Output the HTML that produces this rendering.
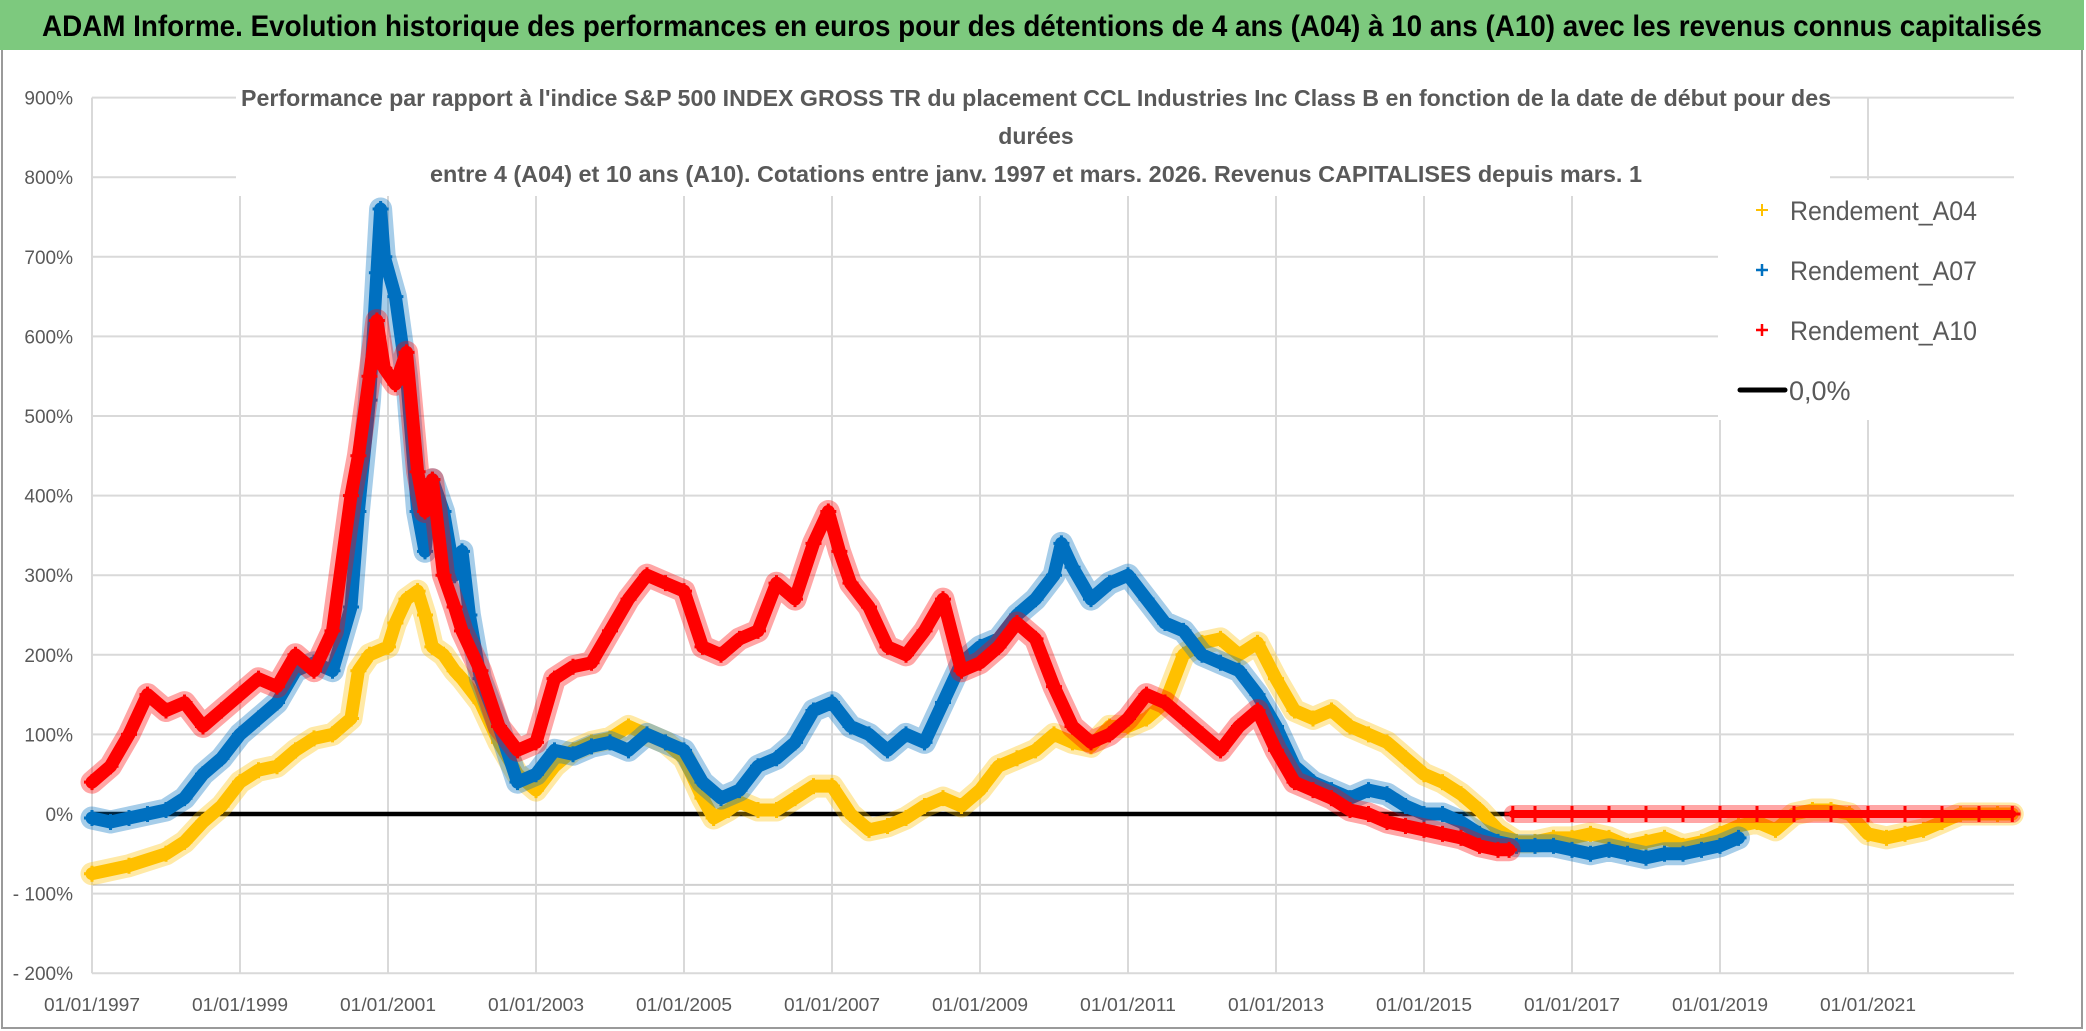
<!DOCTYPE html>
<html><head><meta charset="utf-8"><style>
html,body{margin:0;padding:0;background:#fff;}
svg{display:block;font-family:"Liberation Sans",sans-serif;}
</style></head><body>
<svg id="chart" width="2086" height="1031" viewBox="0 0 2086 1031" xmlns="http://www.w3.org/2000/svg">
<rect x="0" y="0" width="2086" height="1031" fill="#fff"/>
<rect x="2" y="2" width="2080" height="1026" fill="none" stroke="#9a9a9a" stroke-width="2"/>
<rect x="0" y="0" width="2084" height="50" fill="#7dc97e"/>
<text x="1042" y="36" text-anchor="middle" font-size="30" font-weight="bold" fill="#000" textLength="2000" lengthAdjust="spacingAndGlyphs">ADAM Informe. Evolution historique des performances en euros pour des détentions de 4 ans (A04) à 10 ans (A10) avec les revenus connus capitalisés</text>
<g id="grid"></g>
<g id="axes"></g>
<g id="series"></g>
<rect x="236" y="70" width="1594" height="126" fill="#fff"/>
<g fill="#595959" font-weight="bold" font-size="23" text-anchor="middle">
<text x="1036" y="106" textLength="1590" lengthAdjust="spacingAndGlyphs">Performance par rapport à l'indice S&amp;P 500 INDEX GROSS TR  du placement CCL Industries Inc Class B en fonction de la date de début pour des</text>
<text x="1036" y="144">durées</text>
<text x="1036" y="182" textLength="1212" lengthAdjust="spacingAndGlyphs">entre 4 (A04) et 10 ans (A10). Cotations entre janv. 1997 et mars. 2026. Revenus CAPITALISES depuis mars. 1</text>
</g>
<g>
<rect x="1718" y="180" width="300" height="240" fill="#fff"/>
<g><path d="M1756 210h12M1762 204v12" stroke="#ffc000" stroke-width="2"/><text x="1790" y="220" font-size="27" fill="#595959" textLength="187" lengthAdjust="spacingAndGlyphs">Rendement_A04</text></g>
<g><path d="M1756 270h12M1762 264v12" stroke="#0070c0" stroke-width="2.5"/><text x="1790" y="280" font-size="27" fill="#595959" textLength="187" lengthAdjust="spacingAndGlyphs">Rendement_A07</text></g>
<g><path d="M1756 330h12M1762 324v12" stroke="#ff0000" stroke-width="2.5"/><text x="1790" y="340" font-size="27" fill="#595959" textLength="187" lengthAdjust="spacingAndGlyphs">Rendement_A10</text></g>
<g><path d="M1740 390h45" stroke="#000" stroke-width="5" stroke-linecap="round"/><text x="1789" y="400" font-size="27" fill="#595959">0,0%</text></g>
</g>
</svg>
<script>
const yTicks = [900,800,700,600,500,400,300,200,100,0,-100,-200];
const yTickLabels = ["900%","800%","700%","600%","500%","400%","300%","200%","100%","0%","- 100%","- 200%"];
const xTicks = [1997,1999,2001,2003,2005,2007,2009,2011,2013,2015,2017,2019,2021];
const xTickLabels = ["01/01/1997","01/01/1999","01/01/2001","01/01/2003","01/01/2005","01/01/2007","01/01/2009","01/01/2011","01/01/2013","01/01/2015","01/01/2017","01/01/2019","01/01/2021"];
const zeroLineValue = 0;

const a04Dates = [1997,1997.5,1998,1998.25,1998.5,1998.75,1999,1999.25,1999.5,1999.75,2000,2000.25,2000.5,2000.6,2000.75,2001,2001.1,2001.25,2001.4,2001.5,2001.6,2001.75,2001.9,2002,2002.25,2002.5,2002.75,2003,2003.25,2003.5,2003.75,2004,2004.25,2004.5,2004.75,2005,2005.25,2005.4,2005.6,2005.75,2006,2006.25,2006.5,2006.75,2007,2007.25,2007.5,2007.75,2008,2008.25,2008.5,2008.75,2009,2009.25,2009.5,2009.75,2010,2010.25,2010.5,2010.75,2011,2011.25,2011.5,2011.75,2012,2012.25,2012.5,2012.75,2013,2013.25,2013.5,2013.75,2014,2014.25,2014.5,2014.75,2015,2015.25,2015.5,2015.75,2016,2016.25,2016.5,2016.75,2017,2017.25,2017.5,2017.75,2018,2018.25,2018.5,2018.75,2019,2019.25,2019.5,2019.75,2020,2020.25,2020.5,2020.75,2021,2021.25,2021.5,2021.75,2022,2022.25,2022.5,2022.75,2022.95];
const a04Values = [-75,-65,-50,-35,-10,10,40,55,60,80,95,100,120,180,200,210,240,270,280,250,210,200,180,170,140,90,50,30,60,80,90,95,110,100,90,70,20,-5,5,15,5,5,20,35,35,0,-20,-15,-5,10,20,10,30,60,70,80,100,90,85,110,110,120,140,200,215,220,200,215,170,130,120,130,110,100,90,70,50,40,25,5,-20,-35,-35,-30,-30,-25,-30,-40,-35,-30,-40,-35,-25,-15,-10,-20,0,5,5,0,-25,-30,-25,-20,-10,0,0,0,0];

const a07Dates = [1997,1997.25,1997.5,1997.75,1998,1998.25,1998.5,1998.75,1999,1999.25,1999.5,1999.75,2000,2000.25,2000.5,2000.6,2000.75,2000.85,2000.9,2000.95,2001.1,2001.25,2001.4,2001.5,2001.6,2001.75,2001.9,2002,2002.1,2002.25,2002.5,2002.75,2003,2003.25,2003.5,2003.75,2004,2004.25,2004.5,2004.75,2005,2005.25,2005.5,2005.75,2006,2006.25,2006.5,2006.75,2007,2007.25,2007.5,2007.75,2008,2008.25,2008.5,2008.75,2009,2009.25,2009.5,2009.75,2010,2010.1,2010.25,2010.5,2010.75,2011,2011.25,2011.5,2011.75,2012,2012.25,2012.5,2012.75,2013,2013.25,2013.5,2013.75,2014,2014.25,2014.5,2014.75,2015,2015.25,2015.5,2015.75,2016,2016.25,2016.5,2016.75,2017,2017.25,2017.5,2017.75,2018,2018.25,2018.5,2018.75,2019,2019.25];
const a07Values = [-5,-10,-5,0,5,20,50,70,100,120,140,180,190,180,260,380,520,680,760,700,650,550,380,330,420,380,300,330,250,170,110,40,50,80,75,85,90,80,100,90,80,40,20,30,60,70,90,130,140,110,100,80,100,90,140,190,210,220,250,270,300,340,310,270,290,300,270,240,230,200,190,180,150,110,60,40,30,20,30,25,10,0,0,-10,-25,-35,-40,-40,-40,-45,-50,-45,-50,-55,-50,-50,-45,-40,-30];

const a10Dates = [1997,1997.25,1997.5,1997.75,1998,1998.25,1998.5,1998.75,1999,1999.25,1999.5,1999.75,2000,2000.25,2000.5,2000.6,2000.75,2000.85,2000.95,2001.1,2001.25,2001.4,2001.5,2001.6,2001.75,2001.9,2002,2002.25,2002.5,2002.75,2003,2003.25,2003.5,2003.75,2004,2004.25,2004.5,2004.75,2005,2005.25,2005.5,2005.75,2006,2006.25,2006.5,2006.75,2006.95,2007.1,2007.25,2007.5,2007.75,2008,2008.25,2008.5,2008.75,2009,2009.25,2009.5,2009.75,2010,2010.25,2010.5,2010.75,2011,2011.25,2011.5,2011.75,2012,2012.25,2012.5,2012.75,2013,2013.25,2013.5,2013.75,2014,2014.25,2014.5,2014.75,2015,2015.25,2015.5,2015.75,2016,2016.15];
const a10Values = [40,60,100,150,130,140,110,130,150,170,160,200,180,230,400,450,550,620,560,540,580,430,380,420,300,260,230,180,110,80,90,170,185,190,230,270,300,290,280,210,200,220,230,290,270,340,380,330,290,260,210,200,230,270,180,190,210,240,220,160,110,90,100,120,150,140,120,100,80,110,130,80,40,30,20,5,0,-10,-15,-20,-25,-30,-40,-45,-45];
const a10ZeroDates = [2016.2,2016.5,2017,2017.5,2018,2018.5,2019,2019.5,2020,2020.5,2021,2021.5,2022,2022.5,2022.95];
const a10ZeroValues = [0,0,0,0,0,0,0,0,0,0,0,0,0,0,0];

const NS = "http://www.w3.org/2000/svg";
const X0 = 92, PX_PER_YEAR = 74, XEND = 2014;
const Y0 = 814, PX_PER_100 = 79.6;
function xScale(year){ return X0 + (year - 1997) * PX_PER_YEAR; }
function yScale(v){ return Y0 - v / 100 * PX_PER_100; }
function mk(tag, attrs, parent){ const e = document.createElementNS(NS, tag); for (const k in attrs) e.setAttribute(k, attrs[k]); parent.appendChild(e); return e; }

const grid = document.getElementById('grid');
const axes = document.getElementById('axes');
const series = document.getElementById('series');

yTicks.forEach((v, i) => {
  const l = mk('line', {x1: X0, x2: XEND, y1: yScale(v), y2: yScale(v), stroke: '#d9d9d9', 'stroke-width': 2}, grid);
  
  
  const t = mk('text', {x: 73, y: yScale(v) + 7, 'text-anchor': 'end', 'font-size': 19, fill: '#595959'}, axes);
  t.textContent = yTickLabels[i];
  
  
});
const extra = mk('line', {x1: X0, x2: XEND, y1: yScale(-89), y2: yScale(-89), stroke: '#d0d0d0', 'stroke-width': 2}, grid);



xTicks.forEach((yr, i) => {
  if (i > 0) {
    const l = mk('line', {x1: xScale(yr), x2: xScale(yr), y1: yScale(900), y2: yScale(-200), stroke: '#d9d9d9', 'stroke-width': 2}, grid);
    
    
  }
  const t = mk('text', {x: xScale(yr), y: 1011, 'text-anchor': 'middle', 'font-size': 18, fill: '#595959', textLength: 96, lengthAdjust: 'spacingAndGlyphs'}, axes);
  t.textContent = xTickLabels[i];
  
  
});
const yAxis = mk('line', {x1: X0, x2: X0, y1: yScale(900), y2: yScale(-200), stroke: '#d9d9d9', 'stroke-width': 2}, axes);



const zl = mk('line', {x1: X0, x2: XEND, y1: yScale(zeroLineValue), y2: yScale(zeroLineValue), stroke: '#000', 'stroke-width': 4.5}, series);



function drawSeries(dates, values, color, name, band){
  const g = mk('g', {}, series);
  
  
  const pts = dates.map((d, i) => xScale(d).toFixed(1) + ',' + yScale(values[i]).toFixed(1)).join(' ');
  const halo = mk('polyline', {points: pts, fill: 'none', stroke: color, 'stroke-width': band + 10, 'stroke-opacity': 0.35, 'stroke-linejoin': 'round', 'stroke-linecap': 'round'}, g);
  
  
  const pl = mk('polyline', {points: pts, fill: 'none', stroke: color, 'stroke-width': band, 'stroke-linejoin': 'round', 'stroke-linecap': 'round'}, g);
  
  
  dates.forEach((d, i) => {
    const x = xScale(d), y = yScale(values[i]);
    const p = mk('path', {d: `M${x-8} ${y}h16M${x} ${y-8}v16`, stroke: color, 'stroke-width': 3}, g);
    
    
  });
}
drawSeries(a04Dates, a04Values, '#ffc000', 'series-a04', 13);
drawSeries(a07Dates, a07Values, '#0070c0', 'series-a07', 13);
drawSeries(a10Dates, a10Values, '#ff0000', 'series-a10', 13);
drawSeries(a10ZeroDates, a10ZeroValues, '#ff0000', 'series-a10-zero', 8);
</script>
</body></html>
